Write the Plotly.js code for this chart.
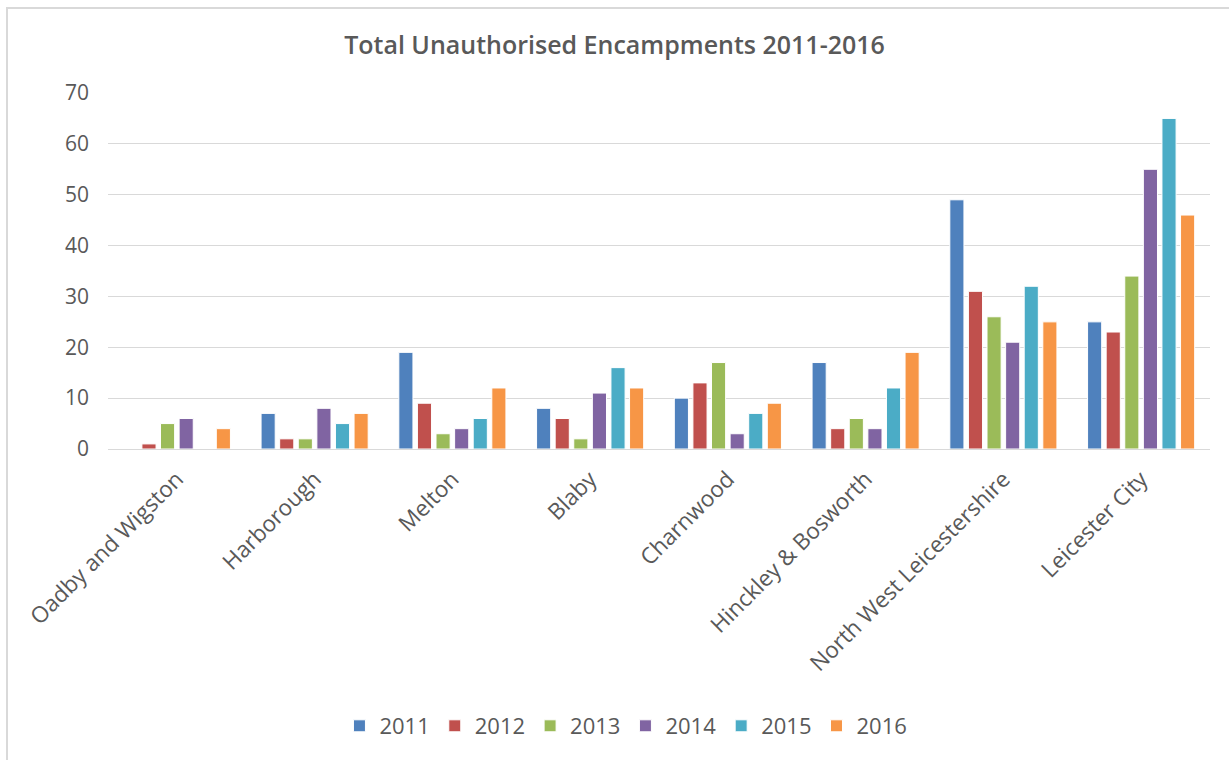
<!DOCTYPE html>
<html>
<head>
<meta charset="utf-8">
<script src="https://cdn.plot.ly/plotly-3.0.1.min.js"></script>
<style>html,body{margin:0;padding:0;background:#fff;}#chart{width:1229px;height:760px;}</style>
</head>
<body>
<div id="chart"></div>
<script>
const categories = ["Oadby and Wigston","Harborough","Melton","Blaby","Charnwood","Hinckley & Bosworth","North West Leicestershire","Leicester City"];
const years = ["2011","2012","2013","2014","2015","2016"];
const v2011 = [0, 7, 19, 8, 10, 17, 49, 25];
const v2012 = [1, 2, 9, 6, 13, 4, 31, 23];
const v2013 = [5, 2, 3, 2, 17, 6, 26, 34];
const v2014 = [6, 8, 4, 11, 3, 4, 21, 55];
const v2015 = [0, 5, 6, 16, 7, 12, 32, 65];
const v2016 = [4, 7, 12, 12, 9, 19, 25, 46];
const seriesValues = [v2011, v2012, v2013, v2014, v2015, v2016];
const colors = ["#4F81BD","#C0504D","#9BBB59","#8064A2","#4BACC6","#F79646"];

const font = "Open Sans, Arial, sans-serif";
const traces = years.map((y, i) => ({
  type: "bar",
  name: y,
  x: categories,
  y: seriesValues[i],
  marker: {color: colors[i], line: {color: "#ffffff", width: 1}},
  hoverinfo: "x+y+name"
}));

const layout = {
  width: 1229, height: 760,
  margin: {l: 108, r: 19, t: 93, b: 311},
  paper_bgcolor: "#ffffff", plot_bgcolor: "#ffffff",
  barmode: "group", bargap: 0.19, bargroupgap: 0.24,
  title: {text: "Total Unauthorised Encampments 2011-2016", font: {family: font, size: 25, color: "#595959", weight: 600},
          x: 0.5, xanchor: "center", xref: "container", y: 1 - 45/760, yref: "container", yanchor: "middle"},
  xaxis: {type: "category", tickangle: -45, tickfont: {family: font, size: 22.5, color: "#595959"},
          showline: true, linecolor: "#d9d9d9", linewidth: 1, ticks: "", showgrid: false, ticklabelstandoff: 7, zeroline: false},
  yaxis: {range: [0, 70], dtick: 10, tick0: 0, tickfont: {family: font, size: 21, color: "#595959"},
          showgrid: true, gridcolor: "#d9d9d9", gridwidth: 1, zeroline: true, zerolinecolor: "#d9d9d9", showline: false,
          ticks: "", ticklabelstandoff: 18},
  showlegend: true,
  legend: {orientation: "h", x: 0.47, xanchor: "center", y: (449-726)/356, yanchor: "middle",
           font: {family: font, size: 22, color: "#595959"}, itemwidth: 30, traceorder: "normal"},
  shapes: [{type: "rect", xref: "paper", yref: "paper", x0: (7-108)/1102, x1: 1.05, y0: -0.95, y1: 1 + (93-8)/356,
            line: {color: "#d9d9d9", width: 2}, fillcolor: "rgba(0,0,0,0)", layer: "below"}]
};

Plotly.newPlot("chart", traces, layout, {displayModeBar: false, responsive: false});
</script>
</body>
</html>
